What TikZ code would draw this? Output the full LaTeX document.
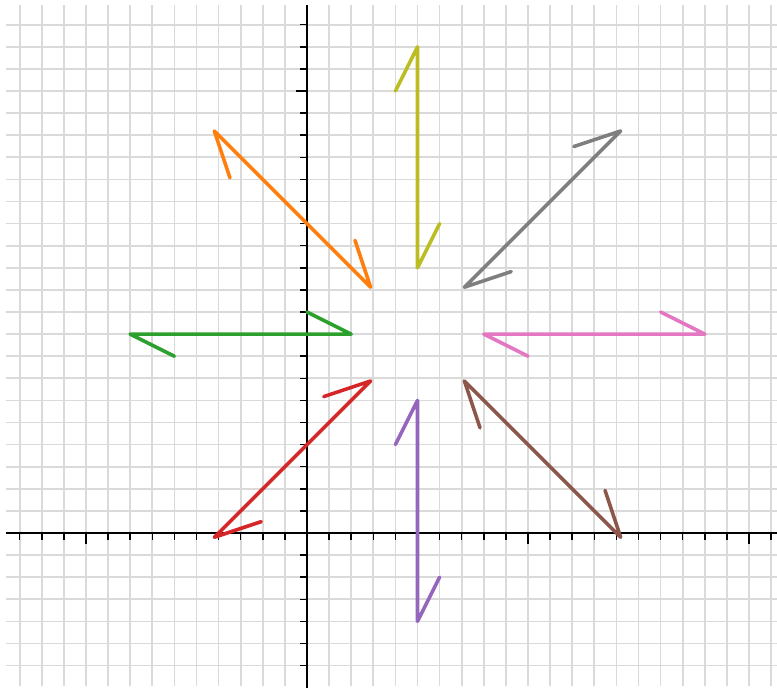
\documentclass[tikz,border=0pt]{standalone}
\usepackage{tikz}
\definecolor{StarOrange}{RGB}{255,127,14}
\definecolor{StarGreen}{RGB}{44,160,44}
\definecolor{StarRed}{RGB}{214,39,40}
\definecolor{StarPurple}{RGB}{148,103,189}
\definecolor{StarBrown}{RGB}{140,86,75}
\definecolor{StarPink}{RGB}{227,119,194}
\definecolor{StarGray}{RGB}{127,127,127}
\definecolor{StarOlive}{RGB}{188,189,34}
\definecolor{StarGrid}{RGB}{218,218,218}
\tikzset{
  star/grid/.style={
    draw=StarGrid,
    line width=1.1pt
  },
  star/axis/.style={
    draw=black,
    line width=1.4pt
  },
  star/tick/.style={
    draw=black,
    line width=1pt
  },
  star/zigzag/.style={
    line width=2.3pt,
    line cap=round,
    line join=round
  }
}

\begin{document}
\begin{tikzpicture}[x=0.5cm,y=0.5cm]
  \useasboundingbox (-13.891,-7.014) rectangle (21.267,24.118);
  \draw[star/grid,step=1] (-13.62,-6.92) grid (21.267,23.89);
  \draw[star/axis] (-13.62,0) -- (21.267,0);
  \draw[star/axis] (0,-7.014) -- (0,23.89);
  \foreach \tx in {-13,...,-1,1,2,...,21}
    \draw[star/tick] (\tx,0) -- (\tx,-0.3);
  \foreach \tx in {-10,10,20}
    \draw[star/tick] (\tx,0) -- (\tx,-0.48);
  \foreach \ty in {-6,...,-1,1,2,...,23}
    \draw[star/tick] (0,\ty) -- (-0.3,\ty);
  \draw[star/tick] (0,20) -- (-0.48,20);
  \foreach \ang/\col in {135/StarOrange,180/StarGreen,225/StarRed,270/StarPurple,315/StarBrown,0/StarPink,45/StarGray,90/StarOlive}
    \draw[star/zigzag,draw=\col,shift={(5,9)},rotate=\ang] (11,1) -- (13,0) -- (3,0) -- (5,-1);
\end{tikzpicture}
\end{document}
